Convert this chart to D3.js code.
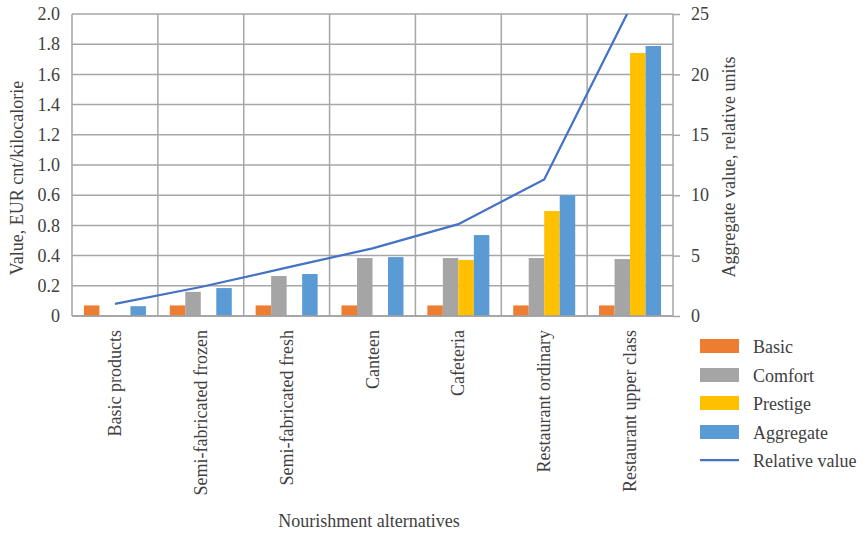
<!DOCTYPE html>
<html><head><meta charset="utf-8">
<script src="https://cdn.jsdelivr.net/npm/d3@7"></script>
<style>body{margin:0;background:#fff}svg text{font-family:'Liberation Serif','Times New Roman',Times,'DejaVu Serif',serif !important;fill:#404040}</style>
</head><body>
<svg id="c" width="863" height="537"></svg>
<script>
const categories = ["Basic products","Semi-fabricated frozen","Semi-fabricated fresh","Canteen","Cafeteria","Restaurant ordinary","Restaurant upper class"];
const basic     = [0.07, 0.07, 0.07, 0.07, 0.07, 0.07, 0.07];
const comfort   = [0,    0.16, 0.265,0.384,0.384,0.384,0.377];
const prestige  = [0,    0,    0,    0,    0.371,0.695,1.742];
const aggregate = [0.065,0.185,0.278,0.39, 0.536,0.80, 1.788];
const relative  = [1.0,  2.4,  4.0,  5.6,  7.6,  11.3, 25.5];
const seriesNames = ["Basic","Comfort","Prestige","Aggregate"];
const lineName = "Relative value";
const leftTickValues = [0,0.2,0.4,0.6,0.8,1.0,1.2,1.4,1.6,1.8,2.0];
const leftTickLabels = ["0","0.2","0.4","0.8","0.6","1.0","1.2","1.4","1.6","1.8","2.0"];
const rightTickValues = [0,5,10,15,20,25];
const colors = ["#ED7D31","#A5A5A5","#FFC000","#5B9BD5"];
const lineColor = "#4472C4";

const svg = d3.select("#c");
const L = 72, R = 673, T = 14, B = 316;
const FS = "18px";
const x = d3.scaleBand().domain(categories).range([L, R]).paddingInner(0).paddingOuter(0);
const y = d3.scaleLinear().domain([0, 2]).range([B, T]);
const y2 = d3.scaleLinear().domain([0, 25]).range([B, T]);
const groupW = 62;
const x1 = d3.scaleBand().domain(seriesNames).range([0, groupW]).padding(0);
const grid = "#A6A6A6";

svg.append("g").selectAll("line").data(leftTickValues).join("line")
  .attr("x1", L).attr("x2", R).attr("y1", d => y(d)).attr("y2", d => y(d))
  .attr("stroke", grid).attr("stroke-width", 1.5);
const bounds = categories.map(c => x(c)).concat([R]);
svg.append("g").selectAll("line").data(bounds).join("line")
  .attr("x1", d => d).attr("x2", d => d).attr("y1", T).attr("y2", B)
  .attr("stroke", grid).attr("stroke-width", 1.5);

const data = [basic, comfort, prestige, aggregate];
const g = svg.append("g");
categories.forEach((c, i) => {
  const x0 = x(c) + (x.bandwidth() - groupW) / 2;
  seriesNames.forEach((s, j) => {
    const v = data[j][i];
    if (v <= 0) return;
    g.append("rect").attr("x", x0 + x1(s)).attr("width", x1.bandwidth())
      .attr("y", y(v)).attr("height", y(0) - y(v)).attr("fill", colors[j]);
  });
});

svg.append("line").attr("x1", L).attr("x2", R).attr("y1", B).attr("y2", B)
  .attr("stroke", "#A0A0A0").attr("stroke-width", 1.5);

svg.append("clipPath").attr("id", "clip").append("rect")
  .attr("x", L).attr("y", T).attr("width", R - L).attr("height", B - T);
svg.append("path").datum(relative)
  .attr("clip-path", "url(#clip)")
  .attr("fill", "none").attr("stroke", lineColor).attr("stroke-width", 2.25)
  .attr("d", d3.line().x((d, i) => x(categories[i]) + x.bandwidth() / 2).y(d => y2(d)));

const la = svg.append("g").attr("transform", `translate(${L},0)`)
  .call(d3.axisLeft(y).tickValues(leftTickValues).tickSize(0).tickPadding(12)
    .tickFormat((d, i) => leftTickLabels[i]));
la.attr("font-family", null);
la.select(".domain").remove();
la.selectAll("text").style("font-size", FS).attr("fill", "#404040");

const ra = svg.append("g").attr("transform", `translate(${R},0)`)
  .call(d3.axisRight(y2).tickValues(rightTickValues).tickSize(7).tickPadding(11));
ra.attr("font-family", null);
ra.select(".domain").remove();
ra.selectAll("line").attr("stroke", grid).attr("stroke-width", 1.5);
ra.selectAll("text").style("font-size", FS).attr("fill", "#404040");

svg.append("g").selectAll("text").data(categories).join("text")
  .attr("transform", d => `translate(${x(d) + x.bandwidth() / 2 + 6},330) rotate(-90)`)
  .attr("text-anchor", "end").style("font-size", FS).text(d => d);

svg.append("text").attr("transform", "translate(23,178) rotate(-90)")
  .attr("text-anchor", "middle").style("font-size", FS).text("Value, EUR cnt/kilocalorie");
svg.append("text").attr("transform", "translate(735,167) rotate(-90)")
  .attr("text-anchor", "middle").style("font-size", FS).text("Aggregate value, relative units");
svg.append("text").attr("x", 369).attr("y", 527)
  .attr("text-anchor", "middle").style("font-size", FS).text("Nourishment alternatives");

const leg = svg.append("g");
const legY = [346, 375, 403, 432, 460];
seriesNames.forEach((s, j) => {
  const cy = legY[j];
  leg.append("rect").attr("x", 700).attr("y", cy - 7).attr("width", 39).attr("height", 14).attr("fill", colors[j]);
  leg.append("text").attr("x", 753).attr("y", cy + 6.5).style("font-size", FS).text(s);
});
const ly = legY[4];
leg.append("line").attr("x1", 700).attr("x2", 739).attr("y1", ly).attr("y2", ly)
  .attr("stroke", lineColor).attr("stroke-width", 2.25);
leg.append("text").attr("x", 753).attr("y", ly + 6.5).style("font-size", FS).text(lineName);
</script>
</body></html>
